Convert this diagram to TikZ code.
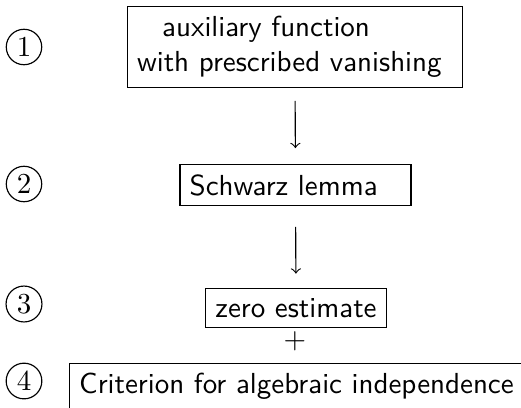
\documentclass[tikz,border=0pt]{standalone}
\usepackage{tikz}
\usetikzlibrary{positioning}
\tikzset{stepbox/.style={draw,font=\sffamily,inner sep=3.33pt},
	 numcirc/.style={circle,draw,inner sep=1.4pt,font=\rmfamily},
	 arr/.style={->,thin}
	 }

\begin{document}
\begin{tikzpicture}[x=0.345pt,y=-0.345pt] % proof scheme, steps 1--4
	\useasboundingbox (0,0) rectangle (521,407);
	\clip (0,0) rectangle (521,407);
	\node[numcirc] (n1) at (24,47) {1};
	\node[numcirc] (n2) at (24,184) {2};
	\node[numcirc] (n3) at (24,304) {3};
	\node[numcirc] (n4) at (24,381) {4};
	\node[stepbox,text width=109pt,align=left] (s1) at (295,47) {\hspace*{8.7pt}auxiliary function\\with prescribed vanishing};
	\node[stepbox,text width=73pt,align=left] (s2) at (295.5,185) {Schwarz lemma};
	\node[stepbox] (s3) at (296,308) {zero estimate};
	\node (plus) at (295,341) {$+$};
	\node[stepbox,anchor=north west] (s4) at (69,363) {Criterion for algebraic independence};
	\draw[arr,shorten <=4.5pt,shorten >=5.5pt] (s1.south) to (s2.north);
	\draw[arr,shorten <=7.2pt,shorten >=5pt] (s2.south) to (s3.north);
\end{tikzpicture}
\end{document}
